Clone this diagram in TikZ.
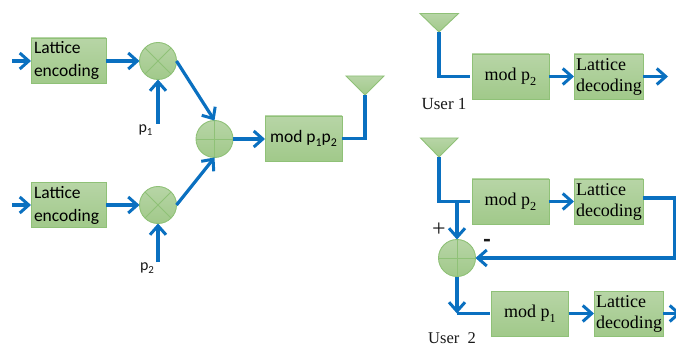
\documentclass[tikz,border=0pt]{standalone}
\usepackage{fontspec}
\setmainfont{Liberation Serif}
\newfontfamily\cali{Carlito}
\usetikzlibrary{arrows.meta}
\newcommand{\lowsub}[1]{\raisebox{-0.28em}{\scalebox{0.68}{#1}}}
\newcommand{\calsub}[1]{\raisebox{-0.18em}{\scalebox{0.68}{#1}}}
\definecolor{wire}{HTML}{0A70C0}
\definecolor{edge}{HTML}{8FC177}
\definecolor{filltop}{HTML}{B7D5A6}
\definecolor{fillbot}{HTML}{A1C98A}
\tikzset{
  x=1pt,y=-1pt,
  wireline/.style={draw=wire,line width=3.2pt,line join=miter},
  arrowline/.style={wireline,-{Straight Barb[length=9pt,width=16pt,line width=3pt]}},
  greenfill/.style={draw=edge,line width=0.9pt,top color=filltop,bottom color=fillbot,shade},
  boxbase/.style={greenfill,rectangle,minimum height=45pt,inner sep=0pt,outer sep=0pt},
  encbox/.style={boxbase,minimum width=75pt,text width=71pt,align=left,font=\cali\fontsize{17.5}{23}\selectfont},
  modbox/.style={boxbase,minimum width=77pt,align=center,font=\fontsize{18}{21}\selectfont},
  decbox/.style={boxbase,minimum width=69pt,text width=65pt,align=left,font=\fontsize{18}{21}\selectfont},
  mixer/.style={greenfill,circle,minimum size=37pt,inner sep=0pt,outer sep=0pt,
    path picture={\draw[edge,line width=0.9pt]
      (path picture bounding box.north west)--(path picture bounding box.south east)
      (path picture bounding box.north east)--(path picture bounding box.south west);}},
  adder/.style={greenfill,circle,minimum size=37pt,inner sep=0pt,outer sep=0pt,
    path picture={\draw[edge,line width=0.9pt]
      (path picture bounding box.north)--(path picture bounding box.south)
      (path picture bounding box.east)--(path picture bounding box.west);}},
  antenna/.style={greenfill,line join=miter},
  lab/.style={inner sep=0pt,outer sep=0pt,text=black!90},
}
\begin{document}
\begin{tikzpicture}
\useasboundingbox (0,0) rectangle (676,347);
% left part
\node[encbox] (enc1) at (68.5,60.5) {\hspace*{1pt}Lattice\\\hspace*{1pt}encoding};
\node[encbox] (enc2) at (68.5,205) {\hspace*{1pt}Lattice\\\hspace*{1pt}encoding};
\node[mixer] (mix1) at (158,61) {};
\node[mixer] (mix2) at (158,205) {};
\node[adder] (sum) at (214.5,139) {};
\node[boxbase,minimum width=77pt,font=\cali\fontsize{17.5}{20}\selectfont] (modt) at (303.5,138.5) {mod p\calsub{1}p\calsub{2}};
\coordinate (in1) at (12,61);
\coordinate (in2) at (12,205);
\node[lab,font=\cali\fontsize{16}{17}\selectfont] (p1) at (145.5,130) {p\calsub{1}};
\node[lab,font=\cali\fontsize{16}{17}\selectfont] (p2) at (147,268) {p\calsub{2}};
\coordinate (p1s) at (158,124);
\coordinate (p2s) at (158,262);
\draw[arrowline] (in1) -- (enc1.west |- in1);
\draw[arrowline] (in2) -- (enc2.west |- in2);
\draw[arrowline] (enc1.east |- mix1) -- (mix1.west);
\draw[arrowline] (enc2.east |- mix2) -- (mix2.west);
\draw[arrowline] (p1s) -- (mix1.south);
\draw[arrowline] (p2s) -- (mix2.south);
\draw[arrowline] (mix1.east) -- (sum.north);
\draw[arrowline] (mix2.east) -- (sum.south);
\draw[arrowline] (sum.east) -- (modt.west |- sum);
\coordinate (ant0) at (365,95);
\draw[antenna] (346,76) -- (384,76) -- (ant0) -- cycle;
\draw[wireline] (ant0) -- (ant0 |- modt) -- (modt.east);
% user 1
\node[modbox] (m1) at (510.5,76.5) {mod p\lowsub{2}};
\node[decbox] (d1) at (608.5,76.5) {Lattice\\decoding};
\coordinate (ant1) at (439,32);
\coordinate (out1) at (668,76.5);
\draw[antenna] (420,13.5) -- (458.5,13.5) -- (ant1) -- cycle;
\draw[wireline] (ant1) -- (ant1 |- m1) -- ([xshift=-2pt]m1.west);
\draw[arrowline] (m1.east) -- (d1.west);
\draw[arrowline] (d1.east) -- (out1);
\node[lab,font=\fontsize{17}{18}\selectfont] (u1) at (444,103.5) {User 1};
% user 2
\node[modbox] (m2) at (510.5,201.5) {mod p\lowsub{2}};
\node[decbox] (d2) at (608.5,201.5) {Lattice\\decoding};
\node[adder] (s2) at (457,258) {};
\node[modbox] (m3) at (530,313.5) {mod p\lowsub{1}};
\node[decbox] (d3) at (628.5,313.5) {Lattice\\decoding};
\coordinate (ant2) at (439,157);
\draw[antenna] (420.5,138) -- (458,138) -- (ant2) -- cycle;
\draw[wireline] (ant2) -- (ant2 |- m2) -- ([xshift=-2pt]m2.west);
\coordinate (tap) at (s2 |- m2);
\draw[arrowline] (tap) -- (s2.north);
\draw[arrowline] (m2.east) -- (d2.west);
\coordinate (turn) at (674.5,198);
\draw[arrowline] (d2.east |- turn) -- (turn) -- (turn |- s2) -- (s2.east);
\coordinate (bend) at (s2 |- m3);
\draw[arrowline] (s2.south) -- (bend);
\draw[wireline] (bend) -- ([xshift=-2pt]m3.west);
\draw[arrowline] (m3.east) -- (d3.west);
\coordinate (out3) at (681,313.5);
\begin{scope}
\clip (0,0) rectangle (676,347);
\draw[arrowline] (d3.east) -- (out3);
\end{scope}
\node[lab,font=\fontsize{24}{24}\selectfont] (plus) at (439,230) {+};
\node[lab,font=\cali\fontsize{24}{24}\selectfont\bfseries] (minus) at (487,243) {-};
\node[lab,font=\fontsize{16.5}{17}\selectfont] (u2) at (452,338) {User\ \ 2};
\end{tikzpicture}
\end{document}
